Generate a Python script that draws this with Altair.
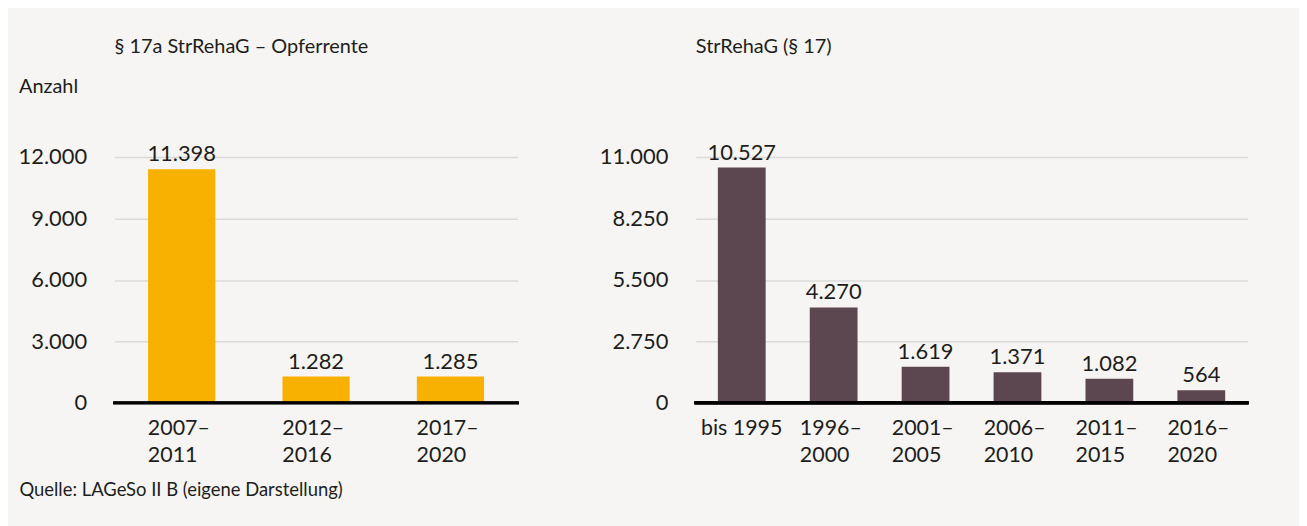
import altair as alt
import pandas as pd

# ---- data ----
left_periods = ["2007–2011", "2012–2016", "2017–2020"]
left_values = [11398, 1282, 1285]
left_ticks = [0, 3000, 6000, 9000, 12000]

right_periods = ["bis 1995", "1996–2000", "2001–2005", "2006–2010", "2011–2015", "2016–2020"]
right_values = [10527, 4270, 1619, 1371, 1082, 564]
right_ticks = [0, 2750, 5500, 8250, 11000]

left_title = "§ 17a StrRehaG – Opferrente"
right_title = "StrRehaG (§ 17)"
y_title = "Anzahl"
source_text = "Quelle: LAGeSo II B (eigene Darstellung)"

FONT = "Lato"
TEXT = "#1d1d1b"
BG = "#f6f5f3"
GRID = "#dadada"
YELLOW = "#f8b100"
MAUVE = "#5c4750"

num_expr = "replace(format(datum.value, ','), ',', '.')"
x_label_expr = (
    "indexof(datum.label, '–') > 0 ? "
    "[substring(datum.label, 0, indexof(datum.label, '–') + 1), "
    "substring(datum.label, indexof(datum.label, '–') + 1)] : datum.label"
)


def panel(periods, values, ticks, color, width, pin, pout, title, title_offset,
          ytitle=None, xtitle=None):
    df = pd.DataFrame({"p": periods, "v": values})
    base = alt.Chart(df)

    y_axis_kwargs = dict(
        values=ticks, labelExpr=num_expr, domain=False, ticks=False,
        labelPadding=28, labelFontSize=22, labelFont=FONT, labelColor=TEXT,
        grid=True, gridColor=GRID, gridWidth=1.5,
    )
    if ytitle:
        y_axis_kwargs.update(
            titleAngle=0, titleAlign="left", titleBaseline="alphabetic",
            titleX=-96.5, titleY=-64.5, titleFontSize=20, titleFont=FONT,
            titleFontWeight="normal", titleColor=TEXT,
        )
    x_axis_kwargs = dict(
        domain=False, ticks=False, labelExpr=x_label_expr, labelAngle=0,
        labelAlign="left", labelBaseline="top", labelPadding=15,
        labelFontSize=21.5, labelLineHeight=27, labelFont=FONT, labelColor=TEXT,
        labelOffset={"condition": {"test": "datum.value === 'bis 1995'", "value": -41},
                     "value": -34},
        grid=False,
    )
    if xtitle:
        x_axis_kwargs.update(
            titleAngle=0, titleAlign="left", titleBaseline="alphabetic",
            titleX=-96, titleY=93, titleFontSize=18.5, titleFont=FONT,
            titleFontWeight="normal", titleColor=TEXT,
        )

    x = alt.X("p:N", sort=periods, title=xtitle,
              scale=alt.Scale(paddingInner=pin, paddingOuter=pout),
              axis=alt.Axis(**x_axis_kwargs))
    y = alt.Y("v:Q", title=ytitle,
              scale=alt.Scale(domain=[ticks[0], ticks[-1]], nice=False),
              axis=alt.Axis(**y_axis_kwargs))

    bars = base.mark_bar(color=color).encode(x=x, y=y)
    labels = base.transform_calculate(
        lab="replace(format(datum.v, ','), ',', '.')"
    ).mark_text(dy=-8, baseline="alphabetic", fontSize=22, font=FONT, color=TEXT).encode(
        x=alt.X("p:N", sort=periods), y="v:Q", text="lab:N"
    )
    rule = alt.Chart(df).mark_rule(color="#000000", strokeWidth=2.6, strokeCap="square").encode(
        y=alt.datum(0)
    )
    return alt.layer(bars, labels, rule).properties(
        width=width, height=247,
        title=alt.TitleParams(
            text=title, anchor="start", frame="group", fontSize=20, font=FONT,
            fontWeight="normal", color=TEXT, baseline="alphabetic", offset=title_offset,
        ),
    )


left = panel(left_periods, left_values, left_ticks, YELLOW, 405, 0.5, 0.25,
             left_title, 4, ytitle=y_title, xtitle=source_text)
right = panel(right_periods, right_values, right_ticks, MAUVE, 554, 0.48, 0.24,
              right_title, 69)

chart = alt.hconcat(left, right, spacing=179, bounds="flush").properties(
    padding={"left": 10, "top": 27.5, "right": 50, "bottom": 30},
    background=BG,
).configure_view(strokeWidth=0)

chart.save("out.html", embed_options={"renderer": "svg", "actions": False})
